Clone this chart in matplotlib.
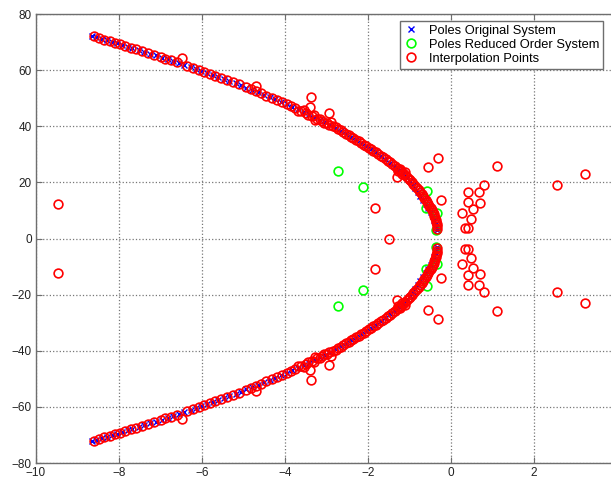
import matplotlib
matplotlib.use("Agg")
import matplotlib.pyplot as plt
import numpy as np

# poles of the original system (upper half plane, the lower half are the conjugates)
poles_re = [-8.66, -8.55, -8.41, -8.30, -8.16, -8.05, -7.92, -7.79, -7.68, -7.53,
            -7.40, -7.25, -7.12, -6.96, -6.81, -6.69, -6.55, -6.43, -6.27, -6.14,
            -6.02, -5.87, -5.74, -5.61, -5.48, -5.34, -5.19, -5.07, -4.93, -4.79,
            -4.64, -4.51, -4.36, -4.24, -4.10, -3.96, -3.82, -3.69, -3.55, -3.43,
            -3.30, -3.16, -3.04, -2.91, -2.78, -2.66, -2.54, -2.41, -2.28, -2.16,
            -2.04, -1.93, -1.81, -1.69, -1.58, -1.47, -1.37, -1.26, -1.16, -1.07,
            -0.98, -0.92, -0.86, -0.80, -0.74, -0.68, -0.61, -0.55, -0.49, -0.44,
            -0.40, -0.37, -0.35, -0.34]
poles_im = [72.3, 71.8, 71.2, 70.7, 70.1, 69.6, 69.0, 68.4, 67.9, 67.2,
            66.6, 65.9, 65.3, 64.5, 63.8, 63.2, 62.5, 61.9, 61.1, 60.4,
            59.8, 59.0, 58.3, 57.6, 56.9, 56.1, 55.3, 54.6, 53.8, 53.0,
            52.1, 51.3, 50.4, 49.6, 48.7, 47.8, 46.9, 46.0, 45.1, 44.2,
            43.3, 42.3, 41.4, 40.4, 39.4, 38.4, 37.4, 36.3, 35.2, 34.1,
            33.0, 31.9, 30.7, 29.5, 28.3, 27.0, 25.8, 24.5, 23.2, 21.9,
            20.6, 19.2, 17.9, 16.5, 15.1, 13.7, 12.3, 10.9, 9.5, 8.1,
            6.7, 5.3, 3.9, 3.0]

# poles of the reduced order system (upper half)
reduced_re = [-2.73, -2.13, -0.57, -0.60, -0.35, -0.36]
reduced_im = [24.2, 18.2, 17.0, 10.7, 9.2, 3.2]

# interpolation points (upper half)
interp_re = [-8.60, -8.35, -8.10, -7.85, -7.60, -7.30, -7.00, -6.75, -6.47, -6.35,
             -6.08, -5.80, -5.55, -5.25, -4.95, -4.70, -4.70, -4.45, -4.20, -3.95,
             -3.75, -3.62, -3.50, -3.40, -3.37, -2.93, -3.35, -3.22, -3.10, -2.98,
             -2.85, -2.72, -2.60, -2.47, -2.35, -2.22, -2.10, -1.98, -1.87, -1.75,
             -1.63, -1.52, -1.42, -1.31, -1.25, -1.20, -1.15, -1.10, -1.31, -1.02,
             -0.95, -0.87, -0.78, -0.70, -0.64, -0.58, -0.52, -0.46, -0.42, -0.38,
             -0.36, -0.35, -0.33,
             -8.48, -8.22, -7.97, -7.72, -7.45, -7.15, -6.88, -6.60, -6.22, -5.95,
             -5.68, -5.40, -5.10, -4.82, -4.58, -4.32, -4.08, -3.86, -3.68, -3.55,
             -3.45, -3.30, -3.28, -3.15, -3.05, -2.95, -2.90, -2.78, -2.66, -2.53,
             -2.41, -2.28, -2.16, -2.04, -1.92, -1.81, -1.69, -1.57, -1.47, -1.36,
             -1.28, -1.22, -1.18, -1.12, -1.06, -0.99, -0.91, -0.83, -0.74, -0.67,
             -0.61, -0.55, -0.49, -0.44, -0.40, -0.37, -0.35,
             -0.31, -0.55, 1.10, 3.23, 2.55, 0.80, 0.68, 0.42, 0.71, 0.42,
             0.54, 0.26, 0.47, 0.34, 0.40, -0.24, -1.83, -9.47]
interp_im = [72.0, 70.9, 69.8, 68.6, 67.5, 66.2, 64.8, 63.5, 64.3, 61.5,
             60.1, 58.6, 57.2, 55.7, 54.0, 54.4, 52.5, 50.9, 49.4, 47.9,
             46.4, 45.6, 44.8, 46.7, 50.3, 44.9, 43.6, 42.7, 41.9, 41.0,
             40.0, 39.0, 38.0, 36.8, 35.8, 34.6, 33.5, 32.4, 31.3, 30.1,
             28.9, 27.7, 26.5, 25.2, 24.5, 23.9, 23.3, 22.5, 21.8, 21.3,
             20.0, 18.6, 17.2, 15.8, 14.4, 13.0, 11.6, 10.2, 8.8, 7.4,
             6.0, 4.6, 3.4,
             71.4, 70.3, 69.2, 68.0, 66.9, 65.5, 64.1, 62.8, 60.8, 59.4,
             57.9, 56.5, 54.9, 53.3, 51.7, 50.2, 48.6, 47.2, 45.3, 45.9,
             44.0, 43.9, 42.4, 42.6, 41.2, 40.5, 41.7, 39.6, 38.6, 37.4,
             36.3, 35.2, 34.1, 33.0, 31.8, 30.7, 29.5, 28.3, 27.1, 25.9,
             24.0, 24.8, 22.9, 23.6, 22.0, 20.7, 19.3, 17.9, 16.5, 15.1,
             13.7, 12.3, 10.9, 9.5, 8.1, 6.7, 5.3,
             28.7, 25.6, 25.7, 23.0, 19.2, 19.2, 16.5, 16.7, 12.8, 13.0,
             10.6, 9.1, 7.0, 3.8, 3.8, 13.9, 10.8, 12.3]
# interpolation point on the real axis
interp_real_re = [-1.49]
interp_real_im = [0.0]


def conj(re, im):
    re = np.asarray(re, float)
    im = np.asarray(im, float)
    return np.concatenate([re, re]), np.concatenate([im, -im])


pr, pi = conj(poles_re, poles_im)
rr, ri = conj(reduced_re, reduced_im)
ir, ii = conj(interp_re, interp_im)
ir = np.concatenate([ir, interp_real_re])
ii = np.concatenate([ii, interp_real_im])

plt.rcParams['font.family'] = ['Liberation Sans', 'DejaVu Sans']
axcol = '#6e6e6e'

fig = plt.figure(figsize=(6.11, 4.82), dpi=100)
ax = fig.add_axes([0.0589, 0.0394, 0.951, 0.9315])

ax.plot(pr, pi, 'x', color='blue', ms=4, mew=1.0, label='Poles Original System')
ax.plot(rr, ri, 'o', mfc='none', mec='#00ff00', ms=6.3, mew=1.2,
        label='Poles Reduced Order System')
ax.plot(ir, ii, 'o', mfc='none', mec='red', ms=6.3, mew=1.2,
        label='Interpolation Points')

ax.set_xlim(-10, 4)
ax.set_ylim(-80, 80)
ax.set_xticks(np.arange(-10, 3, 2))
ax.set_yticks(np.arange(-80, 81, 20))
ax.grid(True, linestyle=':', color='#777777', linewidth=0.9)
ax.tick_params(direction='in', length=4, top=True, right=True, color=axcol,
               labelsize=8.5, labelcolor='#222222', pad=3)
for s in ax.spines.values():
    s.set_color(axcol)
    s.set_linewidth(1.0)

leg = ax.legend(loc='upper right', bbox_to_anchor=(603 / 611, 1 - 21 / 482),
                bbox_transform=fig.transFigure, borderaxespad=0, fontsize=9.3,
                fancybox=False, framealpha=1, edgecolor=axcol, handlelength=1.0,
                handletextpad=0.9, labelspacing=0.15, borderpad=0.3)
leg.get_frame().set_linewidth(1.0)

fig.savefig('out.png', dpi=100)
